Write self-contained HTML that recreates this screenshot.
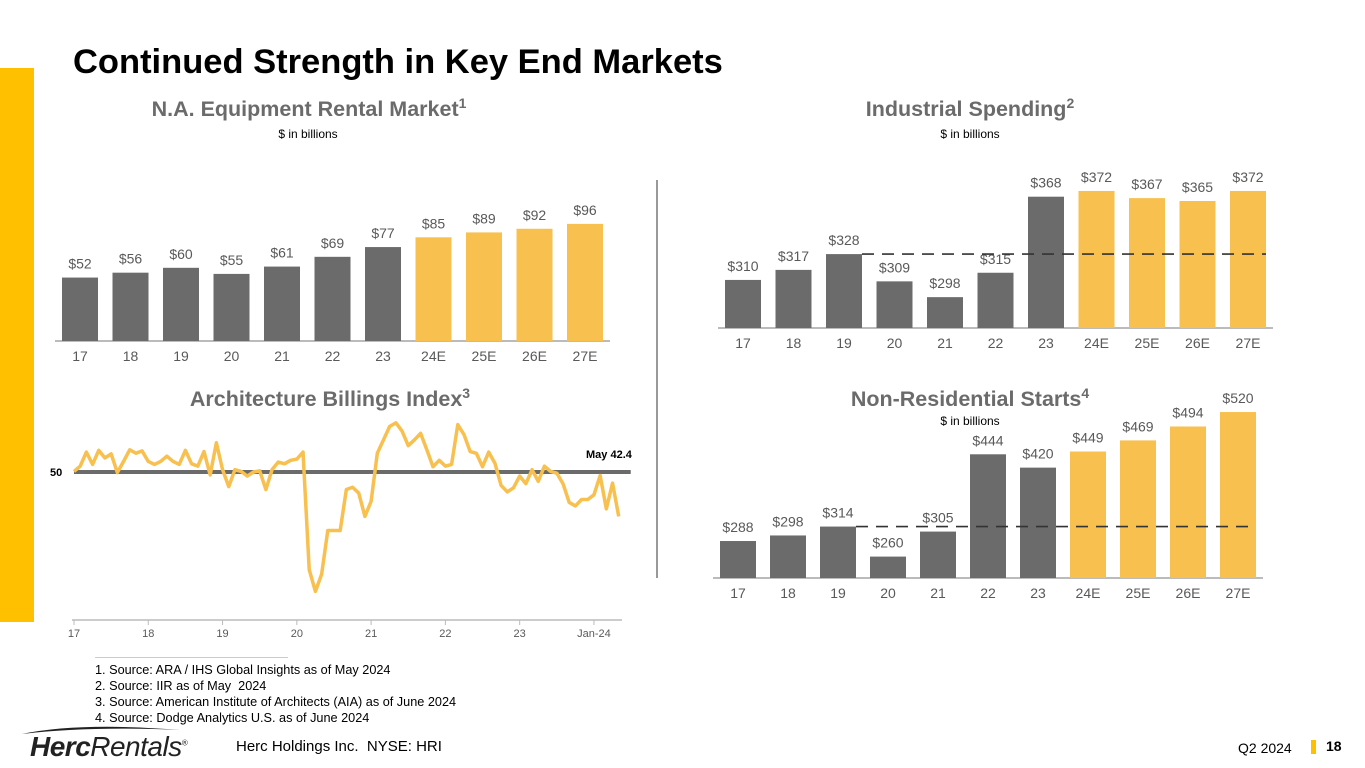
<!DOCTYPE html>
<html><head><meta charset="utf-8"><style>
body{margin:0;width:1365px;height:768px;background:#fff;font-family:"Liberation Sans",sans-serif;position:relative;overflow:hidden}
.abs{position:absolute}
.title{left:73px;top:43px;font-size:34.5px;font-weight:bold;color:#000}
.ct{font-size:21.5px;font-weight:bold;color:#6b6b6b;text-align:center}
.sub{font-size:12px;color:#000;text-align:center}
svg text{font-family:"Liberation Sans",sans-serif}
</style></head><body>
<div class="abs" style="left:0;top:68px;width:34px;height:554px;background:#FFC000"></div>
<div class="abs title">Continued Strength in Key End Markets</div>
<div class="abs ct" style="left:99px;top:95px;width:420px">N.A. Equipment Rental Market<sup style="font-size:14px">1</sup></div>
<div class="abs sub" style="left:208px;top:127px;width:200px">$ in billions</div>
<div class="abs ct" style="left:760px;top:95px;width:420px">Industrial Spending<sup style="font-size:14px">2</sup></div>
<div class="abs sub" style="left:870px;top:127px;width:200px">$ in billions</div>
<div class="abs ct" style="left:150px;top:385px;width:360px">Architecture Billings Index<sup style="font-size:14px">3</sup></div>
<div class="abs ct" style="left:800px;top:385px;width:340px">Non-Residential Starts<sup style="font-size:14px">4</sup></div>
<div class="abs sub" style="left:870px;top:414px;width:200px">$ in billions</div>
<div class="abs" style="left:656px;top:180px;width:2px;height:398px;background:#999"></div>
<svg class="abs" style="left:0;top:0" width="1365" height="768" id="chart"></svg>
<div class="abs" style="left:95px;top:657px;width:193px;height:1px;background:#ccc"></div>
<div class="abs" style="left:95px;top:662px;font-size:12.7px;line-height:16px;color:#000">1. Source: ARA / IHS Global Insights as of May 2024<br>2. Source: IIR as of May&nbsp; 2024<br>3. Source: American Institute of Architects (AIA) as of June 2024<br>4. Source: Dodge Analytics U.S. as of June 2024</div>
<div class="abs" style="left:30px;top:731px;font-size:28px;font-style:italic;color:#222;letter-spacing:-0.5px"><b>Herc</b>Rentals<sup style="font-size:8px">®</sup></div>
<svg class="abs" style="left:20px;top:724px" width="170" height="12"><path d="M2 10 Q60 -2 160 6 Q70 2 2 10Z" fill="#222"/></svg>
<div class="abs" style="left:236px;top:738px;font-size:15px;color:#000">Herc Holdings Inc.&nbsp; NYSE: HRI</div>
<div class="abs" style="left:1238px;top:740px;font-size:14px;color:#000">Q2 2024</div>
<div class="abs" style="left:1311px;top:740px;width:5px;height:14px;background:#FFC000"></div>
<div class="abs" style="left:1326px;top:738px;font-size:14px;font-weight:bold">18</div>
<script>
const years=["17","18","19","20","21","22","23","24E","25E","26E","27E"];
const rentalVals=[52,56,60,55,61,69,77,85,89,92,96];
const industrialVals=[310,317,328,309,298,315,368,372,367,365,372];
const nonresVals=[288,298,314,260,305,444,420,449,469,494,520];
const abiVals=[50.1,51.0,53.4,51.3,53.7,52.4,53.1,49.9,51.8,53.8,53.2,53.6,51.8,51.3,51.8,52.7,51.8,51.3,53.7,51.4,51.0,53.5,49.5,55.0,50.4,47.5,50.4,50.1,49.3,50.0,50.2,47.0,50.4,51.7,51.4,52.0,52.2,53.4,33.3,29.6,32.5,40.0,40.0,40.0,47.0,47.4,46.4,42.4,45.0,53.2,55.5,57.8,58.4,57.0,54.5,55.5,56.6,53.8,50.9,52.0,51.0,51.3,58.1,56.4,53.5,53.2,50.9,53.4,51.5,47.7,46.6,47.3,49.3,48.0,50.4,48.4,51.0,50.1,49.8,48.0,44.8,44.2,45.3,45.3,46.1,49.4,43.7,48.1,42.4];
const abiTicks=["17","18","19","20","21","22","23","Jan-24"];
const abiRef=50;
const svg=document.getElementById('chart');
const NS="http://www.w3.org/2000/svg";
function mk(t,a,txt){const e=document.createElementNS(NS,t);for(const k in a)e.setAttribute(k,a[k]);if(txt!==undefined)e.textContent=txt;svg.appendChild(e);return e;}
const DARK="#6b6b6b",GOLD="#F8C04E";
function barChart(name,vals,x0,step,base,vmin,scale,ref){
  const y=v=>base-(v-vmin)*scale;
  const ax=mk('line',{x1:x0-25,x2:x0+step*10+25,y1:base,y2:base,stroke:'#bbb','stroke-width':2});
  
  
  vals.forEach((v,i)=>{
    const cx=x0+i*step;
    const r=mk('rect',{x:cx-18,y:y(v),width:36,height:base-y(v),fill:i<7?DARK:GOLD});
    
    
    const t=mk('text',{x:cx,y:y(v)-9,'text-anchor':'middle','font-size':14,fill:'#595959'},'$'+v);
    
    
    const l=mk('text',{x:cx,y:base+20,'text-anchor':'middle','font-size':14,fill:'#595959'},years[i]);
    
    
  });
  if(ref!==undefined){
    const d=mk('line',{x1:x0+2*step+18,x2:x0+10*step+18,y1:y(ref),y2:y(ref),stroke:'#333','stroke-width':1.6,'stroke-dasharray':'12,8'});
    
    
  }
}
barChart('rental',rentalVals,80,50.5,341,0,1.22);
barChart('industrial',industrialVals,743,50.5,328,276.5,1.435,industrialVals[2]);
barChart('nonres',nonresVals,738,50,578,221.5,0.556,nonresVals[2]);
// ABI line chart
const ax0=74,mstep=6.19,yRef=472,ys=5.85;
const xa=i=>ax0+i*mstep, ya=v=>yRef-(v-abiRef)*ys;
const abiAxis=mk('line',{x1:72,x2:622,y1:620,y2:620,stroke:'#bbb','stroke-width':1.5});


abiTicks.forEach((t,i)=>{
  const x=xa(i*12);
  const tk=mk('line',{x1:x,x2:x,y1:620,y2:625,stroke:'#bbb'});
  
  
  const tx=mk('text',{x:x,y:637,'text-anchor':'middle','font-size':11,fill:'#595959'},t);
  
  
});
const rl=mk('line',{x1:xa(0),x2:xa(abiVals.length-1)+12,y1:ya(abiRef),y2:ya(abiRef),stroke:'#6b6b6b','stroke-width':4});


const rlab=mk('text',{x:50,y:ya(abiRef)+4,'font-size':11,'font-weight':'bold'},String(abiRef));


const pl=mk('polyline',{points:abiVals.map((v,i)=>xa(i)+','+ya(v)).join(' '),fill:'none',stroke:GOLD,'stroke-width':3.5,'stroke-linejoin':'round'});


const ml=mk('text',{x:586,y:458,'font-size':11,'font-weight':'bold'},'May '+abiVals[abiVals.length-1]);


</script>
</body></html>
